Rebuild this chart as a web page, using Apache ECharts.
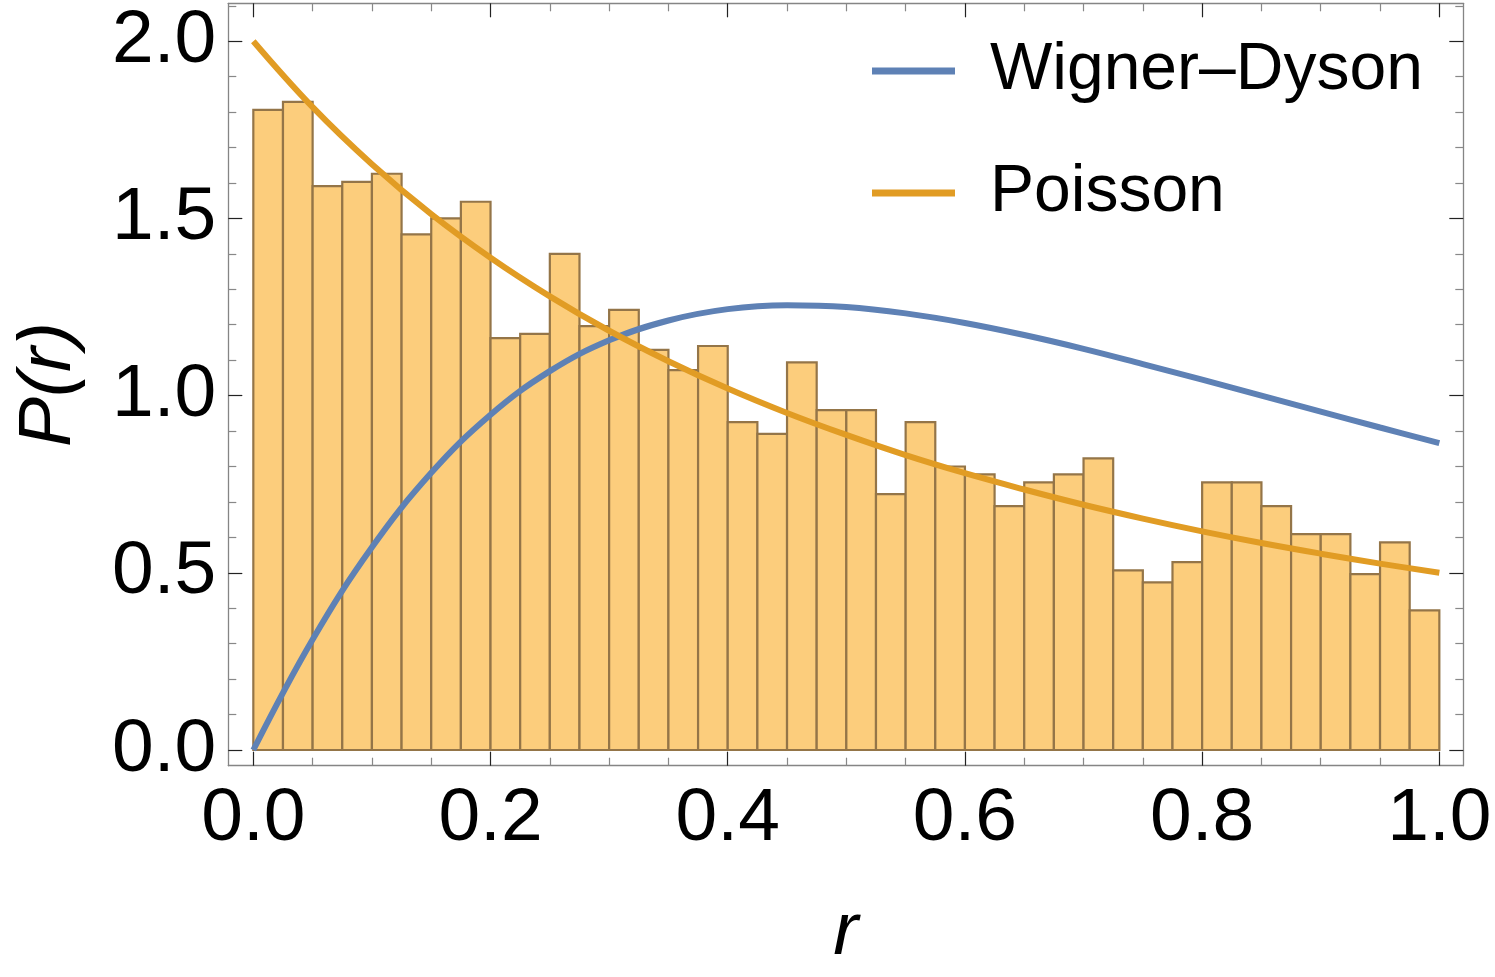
<!DOCTYPE html>
<html>
<head>
<meta charset="utf-8">
<script src="https://cdn.jsdelivr.net/npm/echarts@6/dist/echarts.min.js"></script>
<style>
  html, body { margin: 0; padding: 0; background: #fff; }
  #chart { width: 1495px; height: 977px; }
</style>
</head>
<body>
<div id="chart"></div>
<script>
// histogram of r, 40 bins on [0, 1]
const binWidth = 0.025
const binHeights = [
  1.806, 1.829, 1.591, 1.603, 1.626, 1.455, 1.500, 1.547, 1.162, 1.174,
  1.400, 1.196, 1.242, 1.129, 1.072, 1.140, 0.925, 0.892, 1.094, 0.959,
  0.959, 0.722, 0.925, 0.800, 0.778, 0.688, 0.755, 0.778, 0.823, 0.507,
  0.473, 0.530, 0.755, 0.755, 0.688, 0.609, 0.609, 0.496, 0.586, 0.394
]

// curves
const rValues = [0, 0.05, 0.1, 0.15, 0.2, 0.25, 0.3, 0.35, 0.4, 0.45, 0.5,
  0.55, 0.6, 0.65, 0.7, 0.75, 0.8, 0.85, 0.9, 0.95, 1.0]
const wignerDyson = [0, 0.312, 0.572, 0.782, 0.946, 1.069, 1.156, 1.212, 1.244, 1.255, 1.250,
  1.232, 1.205, 1.171, 1.132, 1.089, 1.045, 1.000, 0.955, 0.910, 0.866]
const poisson = [2.000, 1.814, 1.653, 1.512, 1.389, 1.280, 1.183, 1.097, 1.020, 0.951, 0.889,
  0.832, 0.781, 0.735, 0.692, 0.653, 0.617, 0.584, 0.554, 0.526, 0.500]

const xMajor = [0, 0.2, 0.4, 0.6, 0.8, 1.0]
const xMinor = [0.05, 0.1, 0.15, 0.25, 0.3, 0.35, 0.45, 0.5, 0.55, 0.65, 0.7, 0.75, 0.85, 0.9, 0.95]
const yMajor = [0, 0.5, 1.0, 1.5, 2.0]
const yMinor = [0.1, 0.2, 0.3, 0.4, 0.6, 0.7, 0.8, 0.9, 1.1, 1.2, 1.3, 1.4, 1.6, 1.7, 1.8, 1.9, 2.1]

const X_MIN = -0.0211, X_MAX = 1.0202
const Y_MIN = -0.0443, Y_MAX = 2.107

const font = '"Liberation Sans", Arial, sans-serif'
const frameColor = '#858585'
const blue = '#5e81b5'
const orange = '#e19c24'

// extra axes that only carry frame ticks (Mathematica style frame)
const tickAxis = (min, max, position, values, len, color, showLine) => ({
  type: 'value',
  min: min,
  max: max,
  position: position,
  axisLine: { show: !!showLine, onZero: false, lineStyle: { color: frameColor, width: 1.3 } },
  axisTick: { show: true, inside: true, length: len, customValues: values, lineStyle: { color: color, width: 1.2 } },
  axisLabel: { show: false },
  splitLine: { show: false }
})

const el = document.getElementById('chart')
const chart = echarts.init(el, null, { renderer: 'canvas' })

const histData = binHeights.map((h, i) => [i * binWidth, (i + 1) * binWidth, h])

chart.setOption({
  animation: false,
  backgroundColor: '#fff',
  textStyle: { fontFamily: font },
  grid: { left: 228.3, top: 3.3, right: 31.7, bottom: 211.3, containLabel: false },
  legend: {
    data: ['Wigner–Dyson', 'Poisson'],
    orient: 'vertical',
    left: 872,
    top: 38,
    padding: 0,
    icon: 'rect',
    itemWidth: 83,
    itemHeight: 7,
    itemGap: 56,
    textStyle: { fontSize: 66, lineHeight: 66, color: '#000', fontFamily: font, padding: [0, 0, 0, 30] }
  },
  xAxis: [
    {
      type: 'value', min: X_MIN, max: X_MAX, position: 'bottom',
      name: 'r', nameLocation: 'middle', nameGap: 130,
      nameTextStyle: { fontSize: 75, fontStyle: 'italic', color: '#000', fontFamily: font },
      axisLine: { show: true, onZero: false, lineStyle: { color: frameColor, width: 1.3 } },
      axisTick: { show: true, inside: true, length: 14, customValues: xMajor, lineStyle: { color: '#222', width: 1.2 } },
      axisLabel: { show: true, customValues: xMajor, fontSize: 75, color: '#000', margin: 16, fontFamily: font,
        formatter: v => v.toFixed(1) },
      splitLine: { show: false }
    },
    tickAxis(X_MIN, X_MAX, 'bottom', xMinor, 8, '#888', false),
    tickAxis(X_MIN, X_MAX, 'top', xMajor, 14, '#222', true),
    tickAxis(X_MIN, X_MAX, 'top', xMinor, 8, '#888', false)
  ],
  yAxis: [
    {
      type: 'value', min: Y_MIN, max: Y_MAX, position: 'left',
      name: 'P(r)', nameLocation: 'middle', nameGap: 142, nameRotate: 90,
      nameTextStyle: { fontSize: 75, fontStyle: 'italic', color: '#000', fontFamily: font },
      axisLine: { show: true, onZero: false, lineStyle: { color: frameColor, width: 1.3 } },
      axisTick: { show: true, inside: true, length: 14, customValues: yMajor, lineStyle: { color: '#222', width: 1.2 } },
      axisLabel: { show: true, customValues: yMajor, fontSize: 75, color: '#000', margin: 12, fontFamily: font,
        formatter: v => v.toFixed(1) },
      splitLine: { show: false }
    },
    tickAxis(Y_MIN, Y_MAX, 'left', yMinor, 8, '#888', false),
    tickAxis(Y_MIN, Y_MAX, 'right', yMajor, 14, '#222', true),
    tickAxis(Y_MIN, Y_MAX, 'right', yMinor, 8, '#888', false)
  ],
  series: [
    {
      name: 'histogram',
      type: 'custom',
      xAxisIndex: 0, yAxisIndex: 0,
      data: histData,
      encode: { x: [0, 1], y: 2 },
      renderItem: (params, api) => {
        const p0 = api.coord([api.value(0), 0])
        const p1 = api.coord([api.value(1), api.value(2)])
        return {
          type: 'rect',
          shape: { x: p0[0], y: p1[1], width: p1[0] - p0[0], height: p0[1] - p1[1] },
          style: { fill: '#fccd7c', stroke: '#947548', lineWidth: 2.2 }
        }
      },
      z: 1
    },
    {
      name: 'Wigner–Dyson',
      type: 'line',
      xAxisIndex: 0, yAxisIndex: 0,
      data: rValues.map((r, i) => [r, wignerDyson[i]]),
      smooth: 0.4,
      showSymbol: false,
      lineStyle: { color: blue, width: 6 },
      itemStyle: { color: blue },
      z: 3
    },
    {
      name: 'Poisson',
      type: 'line',
      xAxisIndex: 0, yAxisIndex: 0,
      data: rValues.map((r, i) => [r, poisson[i]]),
      smooth: 0.4,
      showSymbol: false,
      lineStyle: { color: orange, width: 6 },
      itemStyle: { color: orange },
      z: 4
    }
  ]
})

window.addEventListener('resize', () => {
  chart.resize()
})
</script>
</body>
</html>
